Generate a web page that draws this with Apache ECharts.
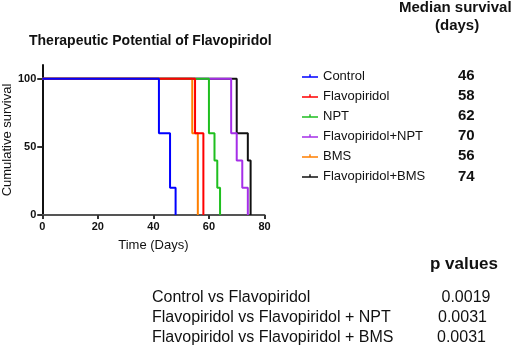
<!DOCTYPE html>
<html>
<head>
<meta charset="utf-8">
<script src="https://cdn.jsdelivr.net/npm/echarts@6/dist/echarts.min.js"></script>
<style>
  html, body { margin: 0; padding: 0; background: #fff; }
  #chart { width: 526px; height: 348px; }
</style>
</head>
<body>
<div id="chart"></div>
<script>
  // groups, colours and median survival (days)
  var groups = ['Control', 'Flavopiridol', 'NPT', 'Flavopiridol+NPT', 'BMS', 'Flavopiridol+BMS'];
  var colors = ['#0000ff', '#ff0000', '#1fbf1f', '#a52ee8', '#ff7f00', '#111111'];
  var medians = [46, 58, 62, 70, 56, 74];

  // Kaplan-Meier steps: [day, % surviving]
  var controlSteps = [[0, 100], [42, 60], [46, 20], [48, 0]];
  var flavoSteps = [[0, 100], [55, 60], [58, 0]];
  var nptSteps = [[0, 100], [60, 60], [62, 40], [63, 20], [64, 0]];
  var flavoNptSteps = [[0, 100], [68, 60], [70, 40], [72, 20], [74, 0]];
  var bmsSteps = [[0, 100], [54, 60], [56, 0]];
  var flavoBmsSteps = [[0, 100], [70, 60], [74, 40], [75, 0]];
  var allSteps = [controlSteps, flavoSteps, nptSteps, flavoNptSteps, bmsSteps, flavoBmsSteps];

  var yTicks = [0, 50, 100];

  // p values table
  var comparisons = ['Control vs Flavopiridol', 'Flavopiridol vs Flavopiridol + NPT', 'Flavopiridol vs Flavopiridol + BMS'];
  var pValues = ['0.0019', '0.0031', '0.0031'];

  var font = 'Liberation Sans, Arial, sans-serif';
  var myChart = echarts.init(document.getElementById('chart'));

  var series = groups.map(function (g, i) {
    return {
      name: g,
      type: 'line',
      step: 'end',
      showSymbol: false,
      z: 10 - i,
      color: colors[i],
      lineStyle: { width: 2, color: colors[i] },
      data: allSteps[i]
    };
  });

  var graphics = [
    { type: 'text', left: 29, top: 34, style: { text: 'Therapeutic Potential of Flavopiridol', font: 'bold 14px ' + font, fill: '#111' } },
    { type: 'text', left: 399, top: 0, style: { text: 'Median survival', font: 'bold 15px ' + font, fill: '#111' } },
    { type: 'text', left: 435, top: 18, style: { text: '(days)', font: 'bold 15px ' + font, fill: '#111' } },
    { type: 'text', left: 430, top: 256, style: { text: 'p values', font: 'bold 17px ' + font, fill: '#111' } }
  ];
  medians.forEach(function (m, i) {
    graphics.push({ type: 'text', left: 458, top: 68 + i * 20.2, style: { text: String(m), font: 'bold 15px ' + font, fill: '#111' } });
  });
  comparisons.forEach(function (c, i) {
    graphics.push({ type: 'text', left: 152, top: 290 + i * 20, style: { text: c, font: '16px ' + font, fill: '#111' } });
    graphics.push({ type: 'text', left: [441.5, 438, 437][i], top: 290 + i * 20, style: { text: pValues[i], font: '16px ' + font, fill: '#111' } });
  });

  var option = {
    animation: false,
    textStyle: { fontFamily: font },
    grid: { left: 41.5, right: 261.5, top: 65, bottom: 133 },
    legend: {
      data: groups,
      orient: 'vertical',
      left: 297,
      top: 64,
      itemWidth: 16,
      itemHeight: 8,
      itemGap: 6,
      icon: 'path://M0,5 L16,5 L16,6.5 L0,6.5 Z M7.3,3 L8.7,3 L8.7,5 L7.3,5 Z',
      textStyle: { fontSize: 13, color: '#111', lineHeight: 14, padding: [0, 0, 0, 0] }
    },
    xAxis: {
      type: 'value',
      min: 0,
      max: 80,
      interval: 20,
      name: 'Time (Days)',
      nameLocation: 'middle',
      nameGap: 24,
      nameTextStyle: { fontSize: 13, color: '#111' },
      splitLine: { show: false },
      axisLine: { lineStyle: { color: '#555', width: 2 } },
      axisTick: { length: 4, lineStyle: { color: '#333', width: 2 } },
      axisLabel: { fontSize: 11, fontWeight: 'bold', color: '#111', margin: 6 }
    },
    yAxis: {
      type: 'value',
      min: 0,
      max: 110,
      name: 'Cumulative survival',
      nameLocation: 'middle',
      nameRotate: 90,
      nameGap: 28,
      nameTextStyle: { fontSize: 13, color: '#111' },
      splitLine: { show: false },
      axisLine: { show: true, lineStyle: { color: '#111', width: 2 } },
      axisTick: { show: true, length: 5, customValues: yTicks, lineStyle: { color: '#333', width: 2 } },
      axisLabel: { fontSize: 11, fontWeight: 'bold', color: '#111', margin: 6, customValues: yTicks }
    },
    graphic: graphics,
    series: series
  };
  myChart.setOption(option);
</script>
</body>
</html>
